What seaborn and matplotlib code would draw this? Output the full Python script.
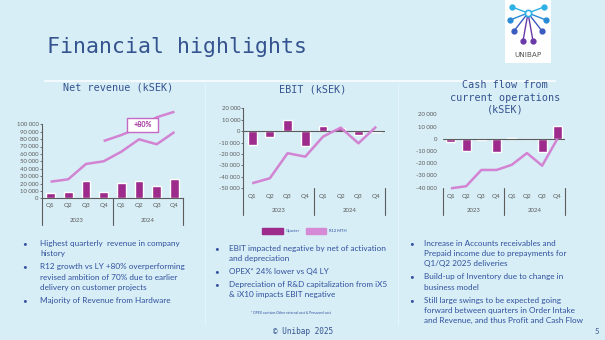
import numpy as np
import pandas as pd
import matplotlib
matplotlib.use("Agg")
import matplotlib.pyplot as plt
import seaborn as sns
from matplotlib.patches import Rectangle
from matplotlib.ticker import FuncFormatter
import matplotlib.transforms as mtransforms

# ---------------- data ----------------
quarters = ["Q1", "Q2", "Q3", "Q4", "Q1", "Q2", "Q3", "Q4"]
years = ["2023", "2024"]
rev_quarter = [7000, 9000, 23000, 9000, 20500, 24000, 17000, 25500]
rev_r12 = [22400, 25700, 46400, 50000, 63000, 79700, 73000, 89600]
rev_r12_upper = [np.nan, np.nan, np.nan, 77400, 85500, 95400, 109500, 117000]
ebit_quarter = [-12200, -5500, 9800, -13000, 4500, 3000, -3300, -300]
ebit_r12 = [-45600, -41200, -19300, -22300, -4800, 3100, -10600, 3900]
cf_quarter = [-2700, -10400, -700, -11200, 400, 200, -11200, 10600]
cf_r12 = [-40500, -38800, -25500, -25500, -21300, -11700, -22000, 0]
rev_ticks = list(range(0, 100001, 10000))
ebit_ticks = list(range(-50000, 20001, 10000))
cf_ticks = list(range(-40000, 20001, 10000))

bullets_1 = [["Highest quarterly  revenue in company", "history"],
             ["R12 growth vs LY +80% overperforming", "revised ambition of 70% due to earlier",
              "delivery on customer projects"],
             ["Majority of Revenue from Hardware"]]
bullets_2 = [["EBIT impacted negative by net of activation", "and depreciation"],
             ["OPEX* 24% lower vs Q4 LY"],
             ["Depreciation of R&D capitalization from iX5", "& iX10 impacts EBIT negative"]]
bullets_3 = [["Increase in Accounts receivables and", "Prepaid income due to prepayments for",
              "Q1/Q2 2025 deliveries"],
             ["Build-up of Inventory due to change in", "business model"],
             ["Still large swings to be expected going", "forward between quarters in Order Intake",
              "and Revenue, and thus Profit and Cash Flow"]]

# ---------------- style ----------------
W, H = 605, 340
BG = "#d7eef6"
BAR = "#9c2b8c"
LINE = "#d283d2"
TITLE = "#34538f"
TXT = "#30509e"
GREY = "#5c5c5c"
MONO = "DejaVu Sans Mono"

sns.set_theme(style="white")
plt.rcParams['font.family'] = ['Lato', 'DejaVu Sans']

fig = plt.figure(figsize=(W / 100, H / 100), dpi=100, facecolor=BG)


def px_rect(l, t, r, b):
    return [l / W, 1 - b / H, (r - l) / W, (b - t) / H]


def fx(x):
    return x / W


def fy(y):
    return 1 - y / H


fmt = FuncFormatter(lambda v, p: f"{int(v):,}".replace(",", " "))


def make_chart(rect, bars, lines, ylim, ticks, bar_w, left_spine, zero_axis,
               q_pad, year_frac, sep_depth, ytick_pad, ytick_len, minor_len):
    ax = fig.add_axes(rect)
    ax.patch.set_alpha(0)
    df = pd.DataFrame({"pos": np.arange(len(bars)), "val": bars})
    sns.barplot(data=df, x="pos", y="val", color=BAR, width=bar_w, saturation=1,
                ax=ax, zorder=2)
    for vals in lines:
        sns.lineplot(x=np.arange(len(vals)), y=vals, ax=ax, color=LINE, lw=1.8,
                     zorder=3)
    for ln in ax.lines:
        ln.set_clip_on(False)
        ln.set_solid_capstyle("butt")
    ax.set_xlim(-0.5, len(bars) - 0.5)
    ax.set_ylim(*ylim)
    ax.set_yticks(ticks)
    ax.yaxis.set_major_formatter(fmt)
    ax.set_xticks(np.arange(len(bars)))
    ax.set_xticklabels(quarters)
    ax.set_xticks(np.arange(-0.5, len(bars), 1), minor=True)
    ax.set_xlabel("")
    ax.set_ylabel("")
    for s in ["top", "right"]:
        ax.spines[s].set_visible(False)
    ax.spines["left"].set_visible(left_spine)
    ax.spines["left"].set_color(GREY)
    ax.spines["left"].set_linewidth(0.8)
    ax.spines["left"].set_bounds(ticks[0], ticks[-1])
    if zero_axis:
        ax.spines["bottom"].set_visible(False)
        ax.axhline(0, color=GREY, lw=0.8, zorder=2.5)
    else:
        ax.spines["bottom"].set_color(GREY)
        ax.spines["bottom"].set_linewidth(0.8)
    ax.tick_params(axis="x", which="major", length=0, pad=q_pad, labelsize=4.6,
                   labelcolor=GREY)
    ax.tick_params(axis="x", which="minor", length=minor_len, width=0.6, color=GREY,
                   direction="out")
    ax.tick_params(axis="y", length=ytick_len, width=0.6, color=GREY, pad=ytick_pad,
                   labelsize=4.3, labelcolor=GREY, left=True)
    trans = mtransforms.blended_transform_factory(ax.transData, ax.transAxes)
    n = len(bars)
    for xb in (-0.5, n / 2 - 0.5, n - 0.5):
        ax.plot([xb, xb], [0, -sep_depth], transform=trans, color=GREY, lw=0.8,
                clip_on=False)
    for i, yr in enumerate(years):
        ax.text(i * n / 2 + (n / 2 - 1) / 2, -year_frac, yr, transform=trans,
                ha="center", va="center", fontsize=4.3, color=GREY)
    return ax


# Net revenue
ax1 = make_chart(px_rect(41.7, 109.5, 183.3, 198.3), rev_quarter,
                 [rev_r12, rev_r12_upper], (0, 120000), rev_ticks, 0.5, True, False,
                 q_pad=3.4, year_frac=(220.7 - 198.3) / 88.8, sep_depth=(225 - 198.3) / 88.8,
                 ytick_pad=0.6, ytick_len=1.6, minor_len=2)
ax1.add_patch(Rectangle((4.30, 90200), 1.785, 18900, facecolor="white",
                        edgecolor="#c46ac4", lw=1.0, zorder=5, clip_on=False))
ax1.text(5.19, 99600, "+80%", ha="center", va="center", fontsize=5.2,
         fontweight="bold", color="#a0309a", zorder=6)

# EBIT
ax2 = make_chart(px_rect(243.3, 108.3, 385, 188.3), ebit_quarter, [ebit_r12],
                 (-50000, 20000), ebit_ticks, 0.5, True, True,
                 q_pad=4.0, year_frac=(211 - 188.3) / 80, sep_depth=(215 - 188.3) / 80,
                 ytick_pad=0.6, ytick_len=1.6, minor_len=1.5)

# Cash flow
ax3 = make_chart(px_rect(443.3, 114.3, 565, 187.7), cf_quarter, [cf_r12],
                 (-40000, 20000), cf_ticks, 0.6, False, True,
                 q_pad=4.2, year_frac=(211 - 187.7) / 73.4, sep_depth=(215 - 187.7) / 73.4,
                 ytick_pad=4.6, ytick_len=0, minor_len=0)

# ---------------- slide decorations ----------------
fig.text(fx(47), fy(53), "Financial highlights", family=MONO, fontsize=15.5,
         color=TITLE, va="baseline", ha="left")
fig.add_artist(plt.Line2D([fx(45), fx(555)], [fy(81), fy(81)], color="#f2fafd", lw=1.5,
                          transform=fig.transFigure))
for xv in (205, 398):
    fig.add_artist(plt.Line2D([fx(xv), fx(xv)], [fy(84), fy(325)], color="#e3f4fa", lw=0.8,
                              transform=fig.transFigure))

fig.text(fx(118), fy(87.5), "Net revenue (kSEK)", family=MONO, fontsize=7.3,
         color=TITLE, ha="center", va="center")
fig.text(fx(312.5), fy(90), "EBIT (kSEK)", family=MONO, fontsize=7.3,
         color=TITLE, ha="center", va="center")
for txt, yv in [("Cash flow from", 85), ("current operations", 97.7), ("(kSEK)", 110)]:
    fig.text(fx(505), fy(yv), txt, family=MONO, fontsize=7.3, color=TITLE,
             ha="center", va="center")

# legend under EBIT
fig.add_artist(Rectangle((fx(262), fy(234.3)), 21 / W, 6 / H, color=BAR,
                         transform=fig.transFigure))
fig.text(fx(286), fy(231), "Quarter", fontsize=3, color=TXT, va="center")
fig.add_artist(Rectangle((fx(306), fy(234.3)), 20 / W, 6 / H, color="#d68ad6",
                         transform=fig.transFigure))
fig.text(fx(329), fy(231), "R12 MTH", fontsize=3, color=TXT, va="center")


def bullets(groups, xb, xt, ys):
    k = 0
    for g in groups:
        for j, line in enumerate(g):
            if j == 0:
                fig.text(fx(xb), fy(ys[k]), "\u2022", fontsize=5.9, color=TXT,
                         va="center", ha="left")
            fig.text(fx(xt), fy(ys[k]), line, fontsize=5.9, color=TXT,
                     va="center", ha="left")
            k += 1


bullets(bullets_1, 22, 40, [243.3, 253.8, 266.5, 277, 287.5, 300.7])
bullets(bullets_2, 214, 229, [248.3, 259, 271.7, 284.3, 295])
bullets(bullets_3, 409, 424, [243.3, 253.3, 263.3, 276.7, 287.3, 300.7, 310.7, 320.7])

fig.text(fx(291), fy(313.5), "* OPEX contains Other external cost & Personnel cost",
         fontsize=2.4, color=TXT, ha="center", va="center")
fig.text(fx(303), fy(332), "\u00a9 Unibap 2025", family=MONO, fontsize=5.6,
         color=TITLE, ha="center", va="center")
fig.text(fx(597), fy(332), "5", fontsize=5.6, color=TITLE, ha="center", va="center")

# logo
axl = fig.add_axes(px_rect(505, 0, 551, 63))
axl.set_facecolor("white")
axl.set_xlim(0, 46)
axl.set_ylim(63, 0)
axl.set_xticks([])
axl.set_yticks([])
for s in axl.spines.values():
    s.set_visible(False)
cx, cy = 23, 13
arms = [((7, 7), "#2cb0e6"), ((39, 7), "#2cb0e6"), ((5, 20), "#2a8ad6"), ((41, 20), "#2a8ad6"),
        ((9, 31), "#3a5cc0"), ((37, 31), "#3a5cc0"), ((18, 41), "#6a3aa8"), ((28, 41), "#6a3aa8")]
for (ex, ey), c in arms:
    axl.plot([cx, ex], [cy, ey], color=c, lw=1.0)
    axl.plot([ex], [ey], "o", color=c, ms=3.5)
axl.plot([cx], [cy], "o", mfc="white", mec="#2cb0e6", mew=1.2, ms=4.5)
axl.text(23, 55, "UNIBAP", ha="center", va="center", fontsize=5.2, color="#555555",
         family="DejaVu Sans")

fig.savefig("out.png", dpi=100, facecolor=BG)
